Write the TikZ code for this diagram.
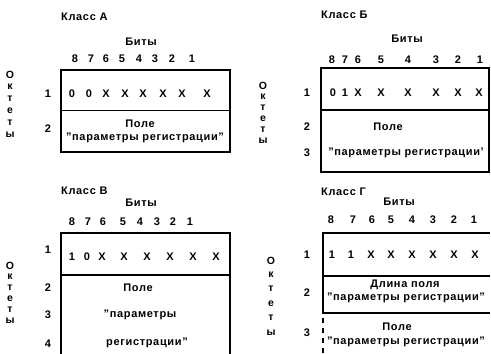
\documentclass[tikz,border=0pt]{standalone}
\usepackage{fontspec}
\setmainfont{Liberation Sans}[LetterSpace=6]
\usepackage{tikz}

\tikzset{
	every node/.style={inner sep=0pt, font=\bfseries\fontsize{11}{13}\selectfont},
	frame/.style={line width=1.7pt},
	octet/.style={font=\bfseries\fontsize{10.5}{12}\selectfont},
	title/.style={anchor=west},
}

\begin{document}
\begin{tikzpicture}[x=1pt, y=-1pt]
			\useasboundingbox (0,0) rectangle (491,354);
			
			% Class A
			\node[title] (a-t) at (61,17) {Класс А};
			\node (a-b) at (141,42) {Биты};
			\foreach \x/\n in {75/8,91/7,106/6,122/5,139/4,155/3,172/2,192/1}
				\node (a-h\n) at (\x,59) {\n};
			\foreach \x/\v [count=\i] in {72/0,89/0,106/X,125/X,143/X,163/X,182/X,207/X}
				\node (a-v\i) at (\x,94) {\v};
			\foreach \l [count=\i] in {О,к,т,е,т,ы}
				\node[octet] (a-o\i) at (10,63+12*\i) {\l};
			\node (a-r1) at (48,94) {1};
			\node (a-r2) at (48,129) {2};
			\node (a-f1) at (140,124) {Поле};
			\node (a-f2) at (145,138) {”параметры регистрации”};
			\draw[frame] (61,70) rectangle (230,152);
			\draw[frame] (61,110.5) -- (230,110.5);
			
			% Class B
			\node[title] (b-t) at (321,15) {Класс Б};
			\node (b-b) at (407,39) {Биты};
			\foreach \x/\n in {332/8,345/7,358/6,381/5,408/4,436/3,458/2,480/1}
				\node (b-h\n) at (\x,60) {\n};
			\foreach \x/\v [count=\i] in {333/0,345/1,358/X,381/X,408/X,436/X,458/X,479/X}
				\node (b-v\i) at (\x,93) {\v};
			\foreach \l [count=\i] in {О,к,т,е,т,ы}
				\node[octet] (b-o\i) at (263,75+11*\i) {\l};
			\node (b-r1) at (307,93) {1};
			\node (b-r2) at (307,127) {2};
			\node (b-r3) at (307,153) {3};
			\node (b-f1) at (388,127) {Поле};
			\node (b-f2) at (406,153) {”параметры регистрации’};
			\draw[frame] (321,68) rectangle (489,172);
			\draw[frame] (321,110) -- (489,110);
			
			% Class V
			\node[title] (v-t) at (61,191) {Класс В};
			\node (v-b) at (141,203) {Биты};
			\foreach \x/\n in {72/8,88/7,103/6,123/5,140/4,157/3,173/2,190/1}
				\node (v-h\n) at (\x,222) {\n};
			\foreach \x/\v [count=\i] in {72/1,87/0,102/X,124/X,147/X,170/X,193/X,216/X}
				\node (v-v\i) at (\x,257) {\v};
			\foreach \l [count=\i] in {О,к,т,е,т,ы}
				\node[octet] (v-o\i) at (10,255+11*\i) {\l};
			\node (v-r1) at (48,250) {1};
			\node (v-r2) at (48,288) {2};
			\node (v-r3) at (48,315) {3};
			\node (v-r4) at (48,344) {4};
			\node (v-f1) at (138,288) {Поле};
			\node (v-f2) at (140,315) {”параметры};
			\node (v-f3) at (147,343) {регистрации”};
			\draw[frame] (61,354) -- (61,233) -- (230,233) -- (230,354);
			\draw[frame] (61,275) -- (230,275);
			
			% Class G
			\node[title] (g-t) at (321,192) {Класс Г};
			\node (g-b) at (399,202) {Биты};
			\foreach \x/\n in {331/8,353/7,372/6,391/5,412/4,433/3,454/2,474/1}
				\node (g-h\n) at (\x,220) {\n};
			\foreach \x/\v [count=\i] in {332/1,351/1,371/X,391/X,412/X,433/X,454/X,475/X}
				\node (g-v\i) at (\x,255) {\v};
			\foreach \l [count=\i] in {О,к,т,е,т,ы}
				\node[octet] (g-o\i) at (271,246+14.4*\i) {\l};
			\node (g-r1) at (307,255) {1};
			\node (g-r2) at (307,293) {2};
			\node (g-r3) at (307,333) {3};
			\node (g-f1) at (405,285) {Длина поля};
			\node (g-f2) at (406,298) {”параметры регистрации”};
			\node (g-f3) at (397,327) {Поле};
			\node (g-f4) at (406,342) {”параметры регистрации”};
			\draw[frame] (490,313) -- (323,313) -- (323,233) -- (490,233);
			\draw[frame] (323,276) -- (490,276);
			\draw[frame, dash pattern=on 5pt off 5pt] (323,318) -- (323,354);
			
		\end{tikzpicture}
\end{document}
